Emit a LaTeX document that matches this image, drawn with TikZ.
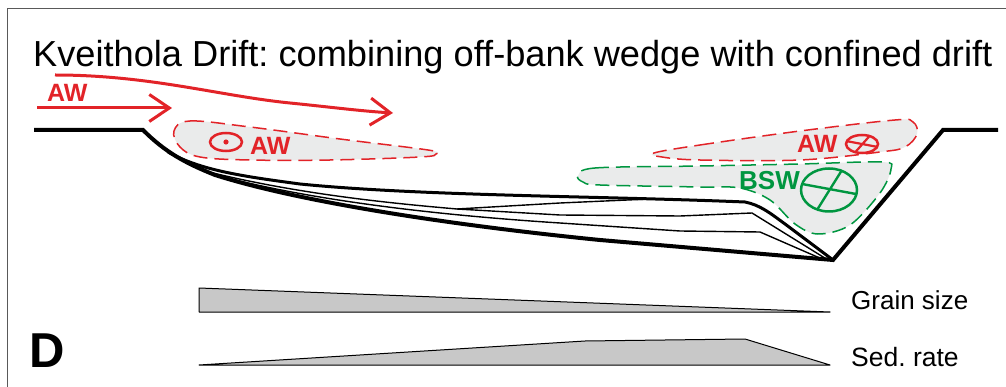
\documentclass[tikz,border=0pt]{standalone}
\usepackage{fontspec}
\setmainfont{Liberation Sans}
\usetikzlibrary{arrows.meta}
\frenchspacing
\definecolor{awred}{RGB}{226,35,40}
\definecolor{bswgreen}{RGB}{0,150,64}
\definecolor{blobfill}{RGB}{234,235,235}
\definecolor{barfill}{RGB}{200,200,200}
\tikzset{
  frameline/.style={draw=black!65, line width=1pt},
  profile/.style={draw=black, line width=4pt, line join=miter},
  drifttop/.style={draw=black, line width=3pt, line join=round},
  layer/.style={draw=black, line width=1.4pt, line join=round},
  redblob/.style={draw=awred, fill=blobfill, line width=1.5pt, dash pattern=on 14pt off 7pt},
  greenblob/.style={draw=bswgreen, fill=blobfill, line width=1.5pt, dash pattern=on 14pt off 7pt},
  flow/.style={draw=awred, line width=3pt, -{Straight Barb[length=20pt,width=27pt]}},
  lbl/.style={inner sep=0pt, anchor=base west},
  watermass/.style={lbl, font=\fontsize{25}{28}\selectfont\bfseries},
  bar/.style={draw=black, fill=barfill, line width=1pt, line join=round},
  barlabel/.style={lbl, font=\fontsize{26}{28}\selectfont},
}
\begin{document}
\begin{tikzpicture}[x=1pt, y=-1pt]
\useasboundingbox (0,0) rectangle (1006,387);
% panel frame (top and left edges)
\draw[frameline] (1006,9) -- (7,9) -- (7,387);

% title
\node[lbl, font=\fontsize{36.2}{40}\selectfont] (title) at (33,67)
  {Kveithola Drift: combining off-bank wedge with confined drift};

% water masses
\draw[redblob] plot[smooth cycle, tension=0.6] coordinates {
  (174,131) (190,121) (250,127) (340,139) (428,150) (436,154) (420,157)
  (330,160) (250,160) (200,157) (180,147)};
\draw[redblob] plot[smooth cycle, tension=0.6] coordinates {
  (654,153) (700,145) (800,131) (895,120) (913,122) (917,134) (905,147)
  (880,152) (800,160) (700,160) (662,157)};
\draw[greenblob] plot[smooth cycle, tension=0.55] coordinates {
  (578,176) (595,168) (700,166) (800,164) (882,162) (891,169) (880,193)
  (850,225) (818,234) (795,224) (770,200) (740,188) (700,187) (600,185)
  (583,182)};

% flow symbols
\draw[awred, line width=2.5pt] (226,142) ellipse [x radius=16, y radius=9];
\fill[awred] (226,142) circle [radius=2.6];
\node[watermass, text=awred] (awleft) at (250,155) {AW};

\node[watermass, text=awred] (awright) at (797,153) {AW};
\draw[awred, line width=2.5pt] (862,144) ellipse [x radius=16, y radius=9];
\draw[awred, line width=2.2pt] (846,141) -- (878,147) (870,135.5) -- (855,152.5);

\node[watermass, text=bswgreen, font=\fontsize{26}{28}\selectfont\bfseries] (bsw) at (739,190) {BSW};
\draw[bswgreen, line width=2.5pt] (829,190) ellipse [x radius=28, y radius=21.5];
\draw[bswgreen, line width=2.4pt] (802,184) -- (856,194) (842,170) -- (817,210);

% inflow arrows
\node[watermass, text=awred] (awin) at (47,102) {AW};
\coordinate (inA) at (37,108);
\coordinate (inAend) at (172,108);
\draw[flow] (inA) -- (inAend);
\coordinate (inB) at (55,75);
\coordinate (inBend) at (393,113);
\draw[flow] (inB) .. controls (150,75) and (220,96) .. (290,103)
  .. controls (330,107) and (360,111) .. (inBend);

% basin profile: shelf, slope, channel floor and opposite flank
\coordinate (shelfL) at (34,130);
\coordinate (shelfbreak) at (143,130);
\coordinate (thalweg) at (833,260);
\coordinate (flankTop) at (943,130);
\coordinate (shelfR) at (998,130);
\draw[profile] (shelfL) -- (shelfbreak)
  .. controls (165,152) and (185,163) .. (215,175)
  .. controls (300,202) and (450,225) .. (600,240)
  -- (thalweg) -- (flankTop) -- (shelfR);

% drift top and internal reflectors
\draw[drifttop] (168,152) .. controls (200,170) and (240,176) .. (300,184)
  .. controls (420,196) and (600,196) .. (745,202)
  .. controls (760,205) and (770,213) .. (785,224) -- (thalweg);
\draw[layer] (205,171) .. controls (300,195) and (400,204) .. (457,209)
  -- (560,203) -- (650,199);
\draw[layer] (457,209) -- (560,215) -- (680,216) -- (752,213) -- (828,260);
\draw[layer] (212,174) .. controls (300,198) and (420,214) .. (560,223)
  -- (680,231) -- (760,232) -- (822,259);

% trend bars
\draw[bar] (199,288) -- (830,312) -- (199,312) -- cycle;
\draw[bar] (199,365) -- (585,341) -- (745,339) -- (830,365) -- cycle;
\node[barlabel] (grain) at (851,309) {Grain size};
\node[barlabel, font=\fontsize{26.5}{28}\selectfont] (sedrate) at (851,366) {Sed. rate};

% panel letter
\node[lbl, font=\fontsize{49}{52}\selectfont\bfseries] (panel) at (29,367) {D};
\end{tikzpicture}
\end{document}
